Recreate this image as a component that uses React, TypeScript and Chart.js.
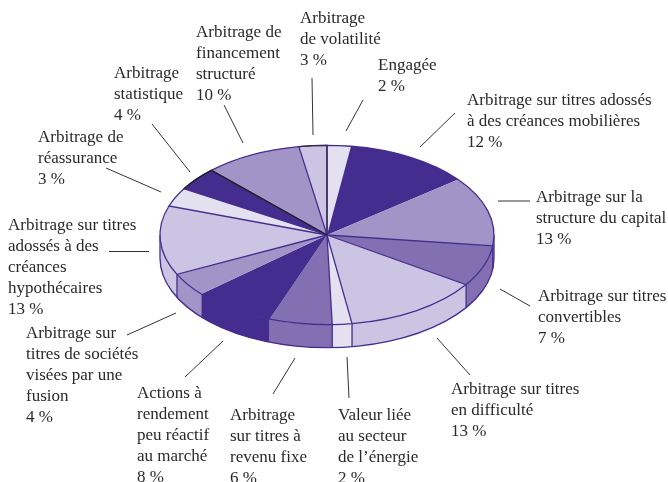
import React, { useEffect, useRef } from "react";
import { Chart, registerables } from "chart.js";

Chart.register(...registerables);

// clockwise from 12 o'clock
const categories = [
  ["Engagée"],
  ["Arbitrage sur titres adossés", "à des créances mobilières"],
  ["Arbitrage sur la", "structure du capital"],
  ["Arbitrage sur titres", "convertibles"],
  ["Arbitrage sur titres", "en difficulté"],
  ["Valeur liée", "au secteur", "de l’énergie"],
  ["Arbitrage", "sur titres à", "revenu fixe"],
  ["Actions à", "rendement", "peu réactif", "au marché"],
  ["Arbitrage sur", "titres de sociétés", "visées par une", "fusion"],
  ["Arbitrage sur titres", "adossés à des", "créances", "hypothécaires"],
  ["Arbitrage de", "réassurance"],
  ["Arbitrage", "statistique"],
  ["Arbitrage de", "financement", "structuré"],
  ["Arbitrage", "de volatilité"],
];
const printedPercent = [2, 12, 13, 7, 13, 2, 6, 8, 4, 13, 3, 4, 10, 3];
// slice shares as measured on the picture (printed labels are these, rounded)
const sliceShare = [2.3, 12.1, 12.6, 7.4, 13.3, 1.9, 6.1, 8, 4.2, 12.5, 3.4, 4.2, 9.5, 2.7];

const DARK = "#452d8f";
const MID = "#a394c7";
const DEEP = "#836fb1";
const LIGHT = "#cbc5e3";
const PALE = "#e3e0f0";
const sliceColors = [PALE, DARK, MID, DEEP, LIGHT, PALE, DEEP, DARK, MID, LIGHT, PALE, DARK, MID, LIGHT];

// slices whose leading edge carries no drawn divider in the picture
const noDivider = [1, 2, 7, 8];

// label layout: left x, first-line baseline
const labelAnchors: [number, number][] = [
  [378, 70], [467, 105], [536, 202], [538, 301], [451, 394], [338, 420], [230, 420],
  [137, 398], [26, 338], [8, 230], [38, 142], [114, 78], [196, 37], [300, 23],
];
// leader layout: x1, y1, x2, y2
const leaders: number[][] = [
  [363, 100, 346, 131], [455, 113, 420, 147], [530, 201, 498, 201], [530, 306, 500, 289],
  [470, 375, 437, 338], [349, 398, 347, 357], [295, 358, 273, 394], [223, 341, 185, 377],
  [176, 313, 127, 335], [109, 251.5, 149, 251.5], [161, 192, 106, 168], [190, 172, 152, 124],
  [243, 143, 224, 105], [313, 135, 312, 78],
];

const SQUASH = 0.537;
const DEPTH = 23;
const LINE = DARK;
const LEADING = 20.9;

const pie3d = {
  id: "pie3d",
  beforeDatasetsDraw(chart: any) {
    const ctx = chart.ctx;
    const arcs = chart.getDatasetMeta(0).data;
    const { x: cx, y: cy, outerRadius: r } = arcs[0];
    const ry = r * SQUASH;
    ctx.save();
    ctx.lineWidth = 1.3;
    // side wall, for the part of each slice that faces the viewer
    arcs.forEach((arc: any, i: number) => {
      const a = Math.max(arc.startAngle, 0);
      const b = Math.min(arc.endAngle, Math.PI);
      if (a >= b) return;
      ctx.beginPath();
      ctx.ellipse(cx, cy, r, ry, 0, a, b);
      ctx.ellipse(cx, cy + DEPTH, r, ry, 0, b, a, true);
      ctx.closePath();
      ctx.fillStyle = sliceColors[i];
      ctx.fill();
    });
    ctx.strokeStyle = LINE;
    ctx.beginPath();
    ctx.ellipse(cx, cy + DEPTH, r, ry, 0, 0, Math.PI);
    ctx.stroke();
    const post = (angle: number) => {
      const x = cx + r * Math.cos(angle);
      const y = cy + ry * Math.sin(angle);
      ctx.beginPath();
      ctx.moveTo(x, y);
      ctx.lineTo(x, y + DEPTH);
      ctx.stroke();
    };
    post(0);
    post(Math.PI);
    arcs.forEach((arc: any, i: number) => {
      if (noDivider.includes(i)) return;
      if (arc.startAngle > 0 && arc.startAngle < Math.PI) post(arc.startAngle);
    });
    ctx.restore();
    ctx.save();
    ctx.translate(0, cy * (1 - SQUASH));
    ctx.scale(1, SQUASH);
  },
  afterDatasetsDraw(chart: any) {
    const ctx = chart.ctx;
    ctx.restore();
    const arcs = chart.getDatasetMeta(0).data;
    const { x: cx, y: cy, outerRadius: r } = arcs[0];
    const ry = r * SQUASH;
    ctx.save();
    ctx.lineWidth = 1.3;
    ctx.strokeStyle = LINE;
    arcs.forEach((arc: any, i: number) => {
      ctx.beginPath();
      if (!noDivider.includes(i)) {
        ctx.moveTo(cx, cy);
        ctx.lineTo(cx + r * Math.cos(arc.startAngle), cy + ry * Math.sin(arc.startAngle));
      }
      ctx.ellipse(cx, cy, r, ry, 0, arc.startAngle, arc.endAngle);
      ctx.stroke();
    });
    // near-black outline on the upper-left dark slice and at the top of the pie
    const dark = arcs[11];
    ctx.strokeStyle = "#231f20";
    ctx.beginPath();
    ctx.ellipse(cx, cy, r, ry, 0, dark.startAngle, dark.endAngle);
    ctx.lineTo(cx, cy);
    ctx.stroke();
    const top = arcs[13];
    ctx.strokeStyle = "#2f2a45";
    ctx.beginPath();
    ctx.ellipse(cx, cy, r, ry, 0, top.startAngle, top.endAngle);
    ctx.lineTo(cx, cy);
    ctx.stroke();

    // leaders
    ctx.strokeStyle = "#333333";
    ctx.lineWidth = 1;
    leaders.forEach(([x1, y1, x2, y2]) => {
      ctx.beginPath();
      ctx.moveTo(x1, y1);
      ctx.lineTo(x2, y2);
      ctx.stroke();
    });

    // labels
    ctx.fillStyle = "#2b2a2a";
    ctx.font = '17px "Liberation Serif"';
    ctx.textAlign = "left";
    ctx.textBaseline = "alphabetic";
    categories.forEach((lines, i) => {
      const [x, y] = labelAnchors[i];
      [...lines, `${printedPercent[i]} %`].forEach((t, k) => ctx.fillText(t, x, y + k * LEADING));
    });
    ctx.restore();
  },
};

export default function App() {
  const ref = useRef<HTMLCanvasElement>(null);
  useEffect(() => {
    document.body.style.margin = "0";
    const chart = new Chart(ref.current as HTMLCanvasElement, {
      type: "pie",
      data: {
        labels: categories.map((c) => c.join(" ")),
        datasets: [
          {
            data: sliceShare,
            backgroundColor: sliceColors,
            borderWidth: 0,
            clip: false,
          } as any,
        ],
      },
      options: {
        responsive: false,
        animation: false,
        devicePixelRatio: 1,
        layout: { padding: { left: 160, right: 174, top: 68, bottom: 80 } },
        plugins: { legend: { display: false }, tooltip: { enabled: false } },
      },
      plugins: [pie3d],
    });
    return () => chart.destroy();
  }, []);
  return (
    <div style={{ width: 668, height: 482, overflow: "hidden" }}>
      <canvas ref={ref} width={668} height={482} style={{ display: "block" }} />
    </div>
  );
}
